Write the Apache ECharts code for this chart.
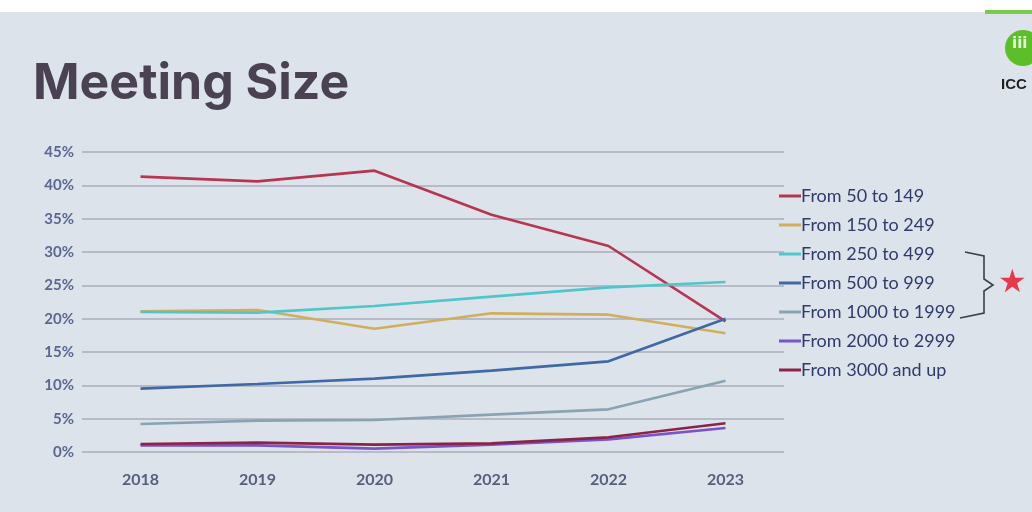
<!DOCTYPE html>
<html>
<head>
<meta charset="utf-8">
<script src="https://cdn.jsdelivr.net/npm/echarts@6/dist/echarts.min.js"></script>
<style>
html,body{margin:0;padding:0;background:#dde3eb;}
#chart{width:1032px;height:512px;}
</style>
</head>
<body>
<div id="chart"></div>
<script>
// ---- data (percent) ----
const years = ['2018', '2019', '2020', '2021', '2022', '2023'];
const yTicks = [0, 5, 10, 15, 20, 25, 30, 35, 40, 45];
const seriesNames = ['From 50 to 149', 'From 150 to 249', 'From 250 to 499', 'From 500 to 999', 'From 1000 to 1999', 'From 2000 to 2999', 'From 3000 and up'];
const from50to149   = [41.3, 40.6, 42.2, 35.6, 30.9, 19.6];
const from150to249  = [21.1, 21.3, 18.5, 20.8, 20.6, 17.8];
const from250to499  = [21.0, 20.9, 21.9, 23.3, 24.7, 25.5];
const from500to999  = [9.5, 10.2, 11.0, 12.2, 13.6, 20.0];
const from1000to1999 = [4.2, 4.7, 4.8, 5.6, 6.4, 10.7];
const from2000to2999 = [1.0, 1.0, 0.5, 1.1, 1.9, 3.6];
const from3000up    = [1.2, 1.4, 1.1, 1.3, 2.2, 4.3];

const seriesData = [from50to149, from150to249, from250to499, from500to999, from1000to1999, from2000to2999, from3000up];
const colors = ['#b8354f', '#cfae5e', '#4fc6c9', '#3f68a6', '#8aa3b3', '#7a52c9', '#8a2446'];

const chart = echarts.init(document.getElementById('chart'));
chart.setOption({
  backgroundColor: '#dde3eb',
  animation: false,
  grid: { left: 82, right: 248, top: 152, bottom: 60, containLabel: false },
  title: {
    text: 'Meeting Size', left: 28, top: 54,
    textStyle: { fontFamily: 'Inter', fontWeight: 700, fontSize: 50, color: '#4a4253' }
  },
  legend: {
    orient: 'vertical', left: 774, top: 182, itemGap: 11,
    itemWidth: 22, itemHeight: 3, icon: 'rect',
    textStyle: { fontFamily: 'Lato', fontSize: 18, color: '#2f3b6b', padding: [0, 0, 0, -5] },
    data: seriesNames
  },
  xAxis: {
    type: 'category', data: years, boundaryGap: true,
    axisLine: { show: false }, axisTick: { show: false },
    axisLabel: { margin: 20, fontFamily: 'Lato', fontWeight: 700, fontSize: 16, color: '#56607e' }
  },
  yAxis: {
    type: 'value', min: 0, max: 45, interval: 5,
    axisLine: { show: false }, axisTick: { show: false },
    axisLabel: { margin: 8, formatter: v => yTicks.includes(v) ? v + '%' : '', fontFamily: 'Lato', fontWeight: 700, fontSize: 15, color: '#5a6792' },
    splitLine: { lineStyle: { color: '#a8aebb', width: 1.5 } }
  },
  series: seriesNames.map((n, i) => ({
    name: n, type: 'line', data: seriesData[i], showSymbol: false, symbol: 'none',
    lineStyle: { color: colors[i], width: 2.6 }, itemStyle: { color: colors[i] }
  })),
  graphic: [
    { type: 'rect', shape: { x: 0, y: 0, width: 1032, height: 12 }, style: { fill: '#ffffff' } },
    { type: 'rect', shape: { x: 985, y: 10, width: 47, height: 4 }, style: { fill: '#7bc94d' } },
    { type: 'circle', shape: { cx: 1023, cy: 48, r: 18 }, style: { fill: '#5cbf2a' } },
    { type: 'text', left: 1012, top: 37, style: { text: 'iii', font: 'bold 15px "DejaVu Sans"', fill: '#e6f5dc' } },
    { type: 'text', left: 1001, top: 77, style: { text: 'ICC', font: 'bold 15px "Liberation Sans"', fill: '#1f1f1f' } },
    { type: 'polyline', shape: { points: [[965, 252], [984, 256], [984, 279], [993, 285], [984, 291], [984, 313], [960, 318]] },
      style: { stroke: '#3e3e48', lineWidth: 1.6, fill: null } },
    { type: 'text', left: 998, top: 268, style: { text: '★', font: '32px "DejaVu Sans"', fill: '#e8384c' } }
  ]
});
</script>
</body>
</html>
